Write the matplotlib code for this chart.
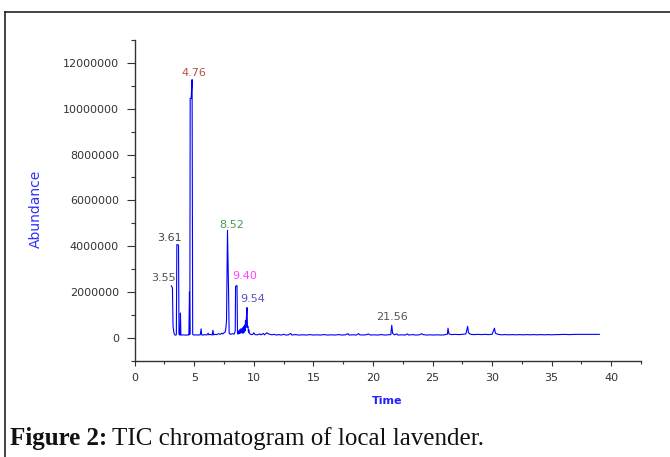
import numpy as np
import matplotlib
matplotlib.use("Agg")
import matplotlib.pyplot as plt
from matplotlib.ticker import MultipleLocator, FuncFormatter
from matplotlib.lines import Line2D

# ---- data (retention time in min, abundance in millions) ----
time_min = [
    3.08, 3.17, 3.22, 3.30, 3.38, 3.47, 3.50, 3.54, 3.68, 3.72, 3.80, 3.84, 3.88,
    3.95, 4.05, 4.20, 4.35, 4.50, 4.55, 4.60, 4.63, 4.66, 4.74, 4.82, 4.87,
    4.95, 5.10, 5.30, 5.50, 5.58, 5.62, 5.75, 5.90, 6.05, 6.17, 6.22, 6.35, 6.50,
    6.57, 6.62, 6.75, 6.90, 7.05, 7.20, 7.30, 7.40, 7.50, 7.60, 7.66, 7.71,
    7.79, 7.88, 7.93, 8.05, 8.20, 8.35, 8.44, 8.47, 8.59, 8.63, 8.68, 8.72,
    8.76, 8.82, 8.86, 8.92, 8.97, 9.02, 9.05, 9.08, 9.11, 9.14, 9.17, 9.20,
    9.23, 9.26, 9.30, 9.34, 9.38, 9.43, 9.47, 9.51, 9.55, 9.58, 9.63, 9.75,
    9.90, 10.0, 10.1, 10.3, 10.5, 10.6, 10.8, 10.9, 11.1, 11.2, 11.3, 11.5,
    11.7, 11.9, 12.1, 12.3, 12.5, 12.7, 12.9, 13.1, 13.2, 13.5, 13.8, 14.1,
    14.4, 14.7, 15.0, 15.3, 15.6, 15.9, 16.2, 16.5, 16.8, 17.1, 17.4, 17.7,
    17.9, 18.0, 18.3, 18.6, 18.8, 18.9, 19.2, 19.5, 19.6, 19.8, 20.1, 20.4,
    20.7, 21.0, 21.3, 21.5, 21.58, 21.65, 21.8, 22.0, 22.1, 22.4, 22.7, 22.9,
    23.0, 23.3, 23.6, 23.9, 24.1, 24.2, 24.5, 24.8, 25.1, 25.4, 25.7, 26.0,
    26.25, 26.3, 26.38, 26.6, 26.9, 27.2, 27.5, 27.8, 27.95, 28.02, 28.2,
    28.5, 28.8, 29.1, 29.4, 29.7, 30.0, 30.2, 30.28, 30.5, 30.8, 31.1, 31.4,
    31.7, 32.0, 32.3, 32.6, 32.9, 33.2, 33.5, 33.8, 34.1, 34.4, 34.7, 35.0,
    35.3, 35.6, 36.0, 36.5, 37.0, 37.5, 38.0, 38.5, 39.0,
]
abundance_m = [
    2.27, 2.18, 0.50, 0.20, 0.12, 0.12, 0.15, 4.07, 4.05, 0.15, 0.12, 1.08, 0.12,
    0.12, 0.13, 0.12, 0.12, 0.13, 0.12, 2.00, 0.15, 10.45, 10.45, 11.27, 0.15,
    0.12, 0.13, 0.12, 0.13, 0.39, 0.13, 0.12, 0.14, 0.12, 0.20, 0.13, 0.15, 0.12,
    0.33, 0.13, 0.15, 0.14, 0.18, 0.15, 0.20, 0.17, 0.22, 0.25, 0.45, 0.75,
    4.69, 2.10, 0.20, 0.15, 0.18, 0.16, 0.30, 2.25, 2.28, 0.20, 0.16, 0.30,
    0.18, 0.35, 0.20, 0.40, 0.22, 0.38, 0.42, 0.20, 0.45, 0.22, 0.50, 0.25,
    0.55, 0.30, 0.75, 0.45, 0.90, 1.32, 0.45, 0.50, 0.25, 0.35, 0.18, 0.15,
    0.14, 0.22, 0.14, 0.13, 0.17, 0.13, 0.19, 0.13, 0.22, 0.18, 0.16, 0.13,
    0.15, 0.12, 0.14, 0.12, 0.15, 0.12, 0.13, 0.19, 0.12, 0.14, 0.12, 0.13,
    0.12, 0.14, 0.12, 0.13, 0.12, 0.14, 0.12, 0.13, 0.12, 0.14, 0.12, 0.13,
    0.18, 0.12, 0.13, 0.12, 0.18, 0.13, 0.12, 0.14, 0.17, 0.12, 0.13, 0.12,
    0.14, 0.12, 0.13, 0.14, 0.55, 0.20, 0.13, 0.17, 0.12, 0.13, 0.12, 0.17,
    0.12, 0.14, 0.12, 0.13, 0.18, 0.14, 0.12, 0.13, 0.12, 0.13, 0.12, 0.13,
    0.16, 0.42, 0.17, 0.14, 0.15, 0.14, 0.15, 0.17, 0.50, 0.22, 0.15,
    0.14, 0.15, 0.14, 0.15, 0.14, 0.15, 0.42, 0.20, 0.15, 0.13, 0.14, 0.13,
    0.14, 0.13, 0.14, 0.13, 0.14, 0.13, 0.14, 0.13, 0.14, 0.13, 0.14, 0.13,
    0.14, 0.14, 0.15, 0.14, 0.15, 0.15, 0.15, 0.15, 0.15,
]

peak_labels = ["3.55", "3.61", "4.76", "8.52", "9.40", "9.54", "21.56"]
peak_times = [3.08, 3.54, 4.82, 7.79, 8.59, 9.43, 21.58]
peak_colors = ["#555555", "#444444", "#b5504a", "#4c9c4c", "#ff44ff", "#5555bb", "#555555"]
label_offsets_px = [(-8, 8), (-7, 7), (2, 7), (4, 5), (8, 10), (6, 9), (0, 8)]

x_ticks = [0, 5, 10, 15, 20, 25, 30, 35, 40]
y_ticks = [0, 2000000, 4000000, 6000000, 8000000, 10000000, 12000000]

t = np.array(time_min)
a = np.array(abundance_m) * 1e6

fig = plt.figure(figsize=(6.7, 4.57), dpi=100)
ax = fig.add_axes([0.2010, 0.2107, 0.7557, 0.7018])

ax.plot(t, a, color="#0000ff", lw=0.8)

ax.set_xlim(0, 42.5)
ax.set_ylim(-1e6, 13e6)
for s in ("top", "right"):
    ax.spines[s].set_visible(False)
for s in ("left", "bottom"):
    ax.spines[s].set_color("#333333")
    ax.spines[s].set_linewidth(1.0)

ax.set_xticks(x_ticks)
ax.set_yticks(y_ticks)
ax.xaxis.set_minor_locator(MultipleLocator(2.5))
ax.yaxis.set_minor_locator(MultipleLocator(1e6))
ax.yaxis.set_major_formatter(FuncFormatter(lambda v, p: "%d" % v))
ax.tick_params(axis="y", which="major", length=5.8, width=0.8, color="#333333",
               labelsize=8, labelcolor="#333333", pad=5.5)
ax.tick_params(axis="y", which="minor", length=2.9, width=0.8, color="#333333")
ax.tick_params(axis="x", which="major", length=3.6, width=0.8, color="#333333",
               labelsize=8, labelcolor="#333333", pad=5)
ax.tick_params(axis="x", which="minor", length=2.2, width=0.8, color="#333333")

ax.set_ylabel("Abundance", color="#3030ff", fontsize=10)
ax.yaxis.set_label_coords(-0.182, 0.4746)
ax.set_xlabel("Time", color="#2020ff", fontsize=8, fontweight="bold")
ax.xaxis.set_label_coords(0.498, -0.109)

for lab, pt, col, off in zip(peak_labels, peak_times, peak_colors, label_offsets_px):
    i = int(np.argmin(np.abs(t - pt)))
    ax.annotate(lab, xy=(t[i], a[i]), xytext=off, textcoords="offset pixels",
                ha="center", va="center", fontsize=8, color=col)

# frame (top and left) as in the cropped figure
fig.add_artist(Line2D([0.0075, 1.0], [0.9737, 0.9737], color="#222222", lw=1.2,
                      transform=fig.transFigure))
fig.add_artist(Line2D([0.0075, 0.0075], [0.0, 0.9737], color="#222222", lw=1.2,
                      transform=fig.transFigure))

# caption
cap_y = 1 - 445 / 457
t1 = fig.text(0.015, cap_y, "Figure 2:", fontsize=18, fontweight="bold",
              family="Liberation Serif", va="baseline", ha="left", color="#111111")
r = fig.canvas.get_renderer()
bb = t1.get_window_extent(r)
x2 = (bb.x1 + 5) / fig.bbox.width
fig.text(x2, cap_y, "TIC chromatogram of local lavender.", fontsize=18,
         family="Liberation Serif", va="baseline", ha="left", color="#111111")

fig.savefig("out.png", dpi=100)
